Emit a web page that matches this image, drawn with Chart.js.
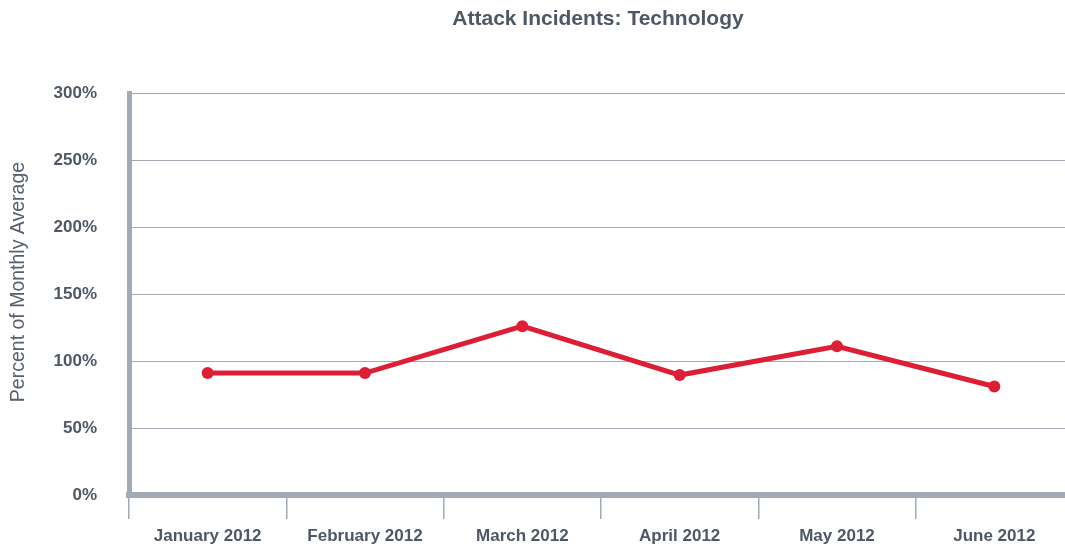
<!DOCTYPE html>
<html>
<head>
<meta charset="utf-8">
<script src="https://cdn.jsdelivr.net/npm/chart.js@4.4.0/dist/chart.umd.min.js"></script>
<style>
  html, body { margin: 0; padding: 0; background: #ffffff; }
  #wrap { width: 1065px; height: 547px; position: relative; }
</style>
</head>
<body>
<div id="wrap"><canvas id="c" width="1065" height="547"></canvas></div>
<script>
const chartTitle = "Attack Incidents: Technology";
const yAxisTitle = "Percent of Monthly Average";
const categories = ["January 2012", "February 2012", "March 2012", "April 2012", "May 2012", "June 2012"];
const percentValues = [91, 91, 126, 89.5, 111, 81];
const yTicks = [0, 50, 100, 150, 200, 250, 300];

const textColor = "#4d5864";
const axisColor = "#a2abb3";
const lineColor = "#dc1f36";
const fontFamily = "'Liberation Sans', Arial, sans-serif";

// the plot in the reference runs a little past the right edge of the picture
const extendRightPlugin = {
  id: "extendRight",
  afterLayout(chart) {
    const extra = 8;
    const x = chart.scales.x;
    chart.chartArea.right += extra;
    chart.chartArea.width += extra;
    x.right += extra;
    x.width += extra;
    x.configure();
  }
};

const titlePlugin = {
  id: "areaTitle",
  afterDraw(chart) {
    const ctx = chart.ctx;
    ctx.save();
    ctx.font = "bold 21px " + fontFamily;
    ctx.fillStyle = textColor;
    ctx.textAlign = "center";
    ctx.textBaseline = "middle";
    ctx.fillText(chartTitle, 598, 19);
    ctx.restore();

    ctx.save();
    ctx.font = "normal 19.5px " + fontFamily;
    ctx.fillStyle = "#56616b";
    ctx.textAlign = "center";
    ctx.textBaseline = "middle";
    ctx.translate(19, 282);
    ctx.rotate(-Math.PI / 2);
    ctx.fillText(yAxisTitle, 0, 0);
    ctx.restore();
  }
};

new Chart(document.getElementById("c"), {
  type: "line",
  data: {
    labels: categories,
    datasets: [{
      data: percentValues,
      borderColor: lineColor,
      backgroundColor: lineColor,
      borderWidth: 5,
      pointRadius: 6,
      pointHoverRadius: 6,
      pointBackgroundColor: lineColor,
      pointBorderWidth: 0,
      tension: 0
    }]
  },
  options: {
    responsive: false,
    animation: false,
    devicePixelRatio: 1,
    layout: { autoPadding: false, padding: { top: 93, right: 0, left: 0, bottom: 0 } },
    plugins: {
      legend: { display: false },
      title: { display: false },
      tooltip: { enabled: false }
    },
    scales: {
      x: {
        type: "category",
        offset: true,
        grid: {
          offset: true,
          drawOnChartArea: false,
          drawTicks: true,
          tickLength: 24,
          color: axisColor,
          lineWidth: 1.5
        },
        border: { display: true, color: axisColor, width: 6 },
        ticks: {
          color: textColor,
          font: { family: fontFamily, size: 17, weight: "bold" },
          padding: 7,
          maxRotation: 0,
          autoSkip: false
        },
        afterFit(scale) { scale.height = 52; }
      },
      y: {
        min: 0,
        max: 300,
        afterBuildTicks(scale) { scale.ticks = yTicks.map(v => ({ value: v })); },
        grid: {
          drawTicks: false,
          color: axisColor,
          lineWidth: 1
        },
        border: { display: true, color: axisColor, width: 5 },
        ticks: {
          color: textColor,
          font: { family: fontFamily, size: 17, weight: "bold" },
          padding: 32,
          callback: v => v + "%"
        },
        title: { display: false },
        afterFit(scale) { scale.width = 129; }
      }
    }
  },
  plugins: [extendRightPlugin, titlePlugin]
});
</script>
</body>
</html>
